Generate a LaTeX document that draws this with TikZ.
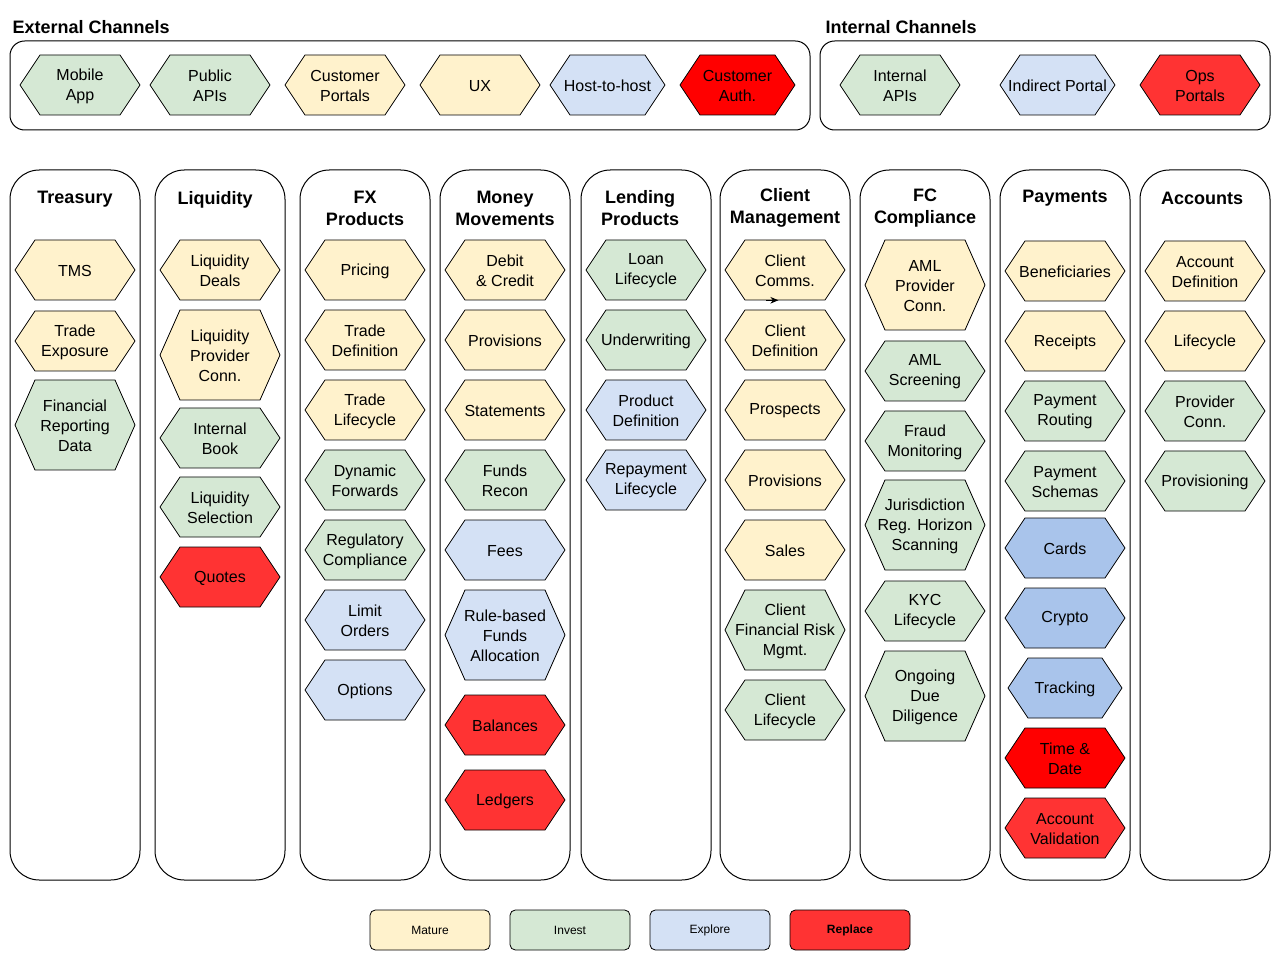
\documentclass[tikz,border=0pt]{standalone}
\usepackage{fontspec}
\setmainfont{Liberation Sans}
\usetikzlibrary{arrows.meta}

\definecolor{mature}{HTML}{FFF2CC}
\definecolor{invest}{HTML}{D5E8D4}
\definecolor{explore}{HTML}{D4E1F5}
\definecolor{deepblue}{HTML}{A9C4EB}
\definecolor{replace}{HTML}{FF3333}
\definecolor{purered}{HTML}{FF0000}

\tikzset{
  hexline/.style={draw=black, line width=0.6pt},
  hextext/.style={inner sep=0pt, align=center, font=\fontsize{12}{15}\selectfont},
  colbox/.style={draw=black, line width=0.75pt, rounded corners=22pt},
  chanbox/.style={draw=black, line width=0.75pt, rounded corners=11pt},
  header/.style={align=center, font=\fontsize{13.5}{16.5}\selectfont\bfseries},
  legend/.style={draw=black, line width=0.6pt, rounded corners=4pt, minimum width=90pt,
    minimum height=30pt, inner sep=0pt, font=\fontsize{9}{11}\selectfont}
}

% hexagon: name, left x, top y, width, height, fill, text
\newcommand{\hexa}[7]{%
  \draw[hexline, fill=#6] (#2,#3+#5/2) -- (#2+20,#3) -- (#2+#4-20,#3) -- (#2+#4,#3+#5/2)
    -- (#2+#4-20,#3+#5) -- (#2+20,#3+#5) -- cycle;
  \node[hextext, minimum width=#4*0.75pt, minimum height=#5*0.75pt] (#1) at (#2+#4/2,#3+#5/2+1) {#7};}

\begin{document}
\begin{tikzpicture}[x=0.75pt, y=-0.75pt]
  \fill[white] (0,0) rectangle (1281,969);
  \useasboundingbox (0,0) rectangle (1281,969);

  % channels
  \node[header, anchor=west] (extitle) at (8,27) {External Channels};
  \node[header, anchor=west] (intitle) at (821,27) {Internal Channels};
  \draw[chanbox] (10,41) rectangle (810,130);
  \draw[chanbox] (820,41) rectangle (1270,130);

  \hexa{mobile}{20}{55}{120}{60}{invest}{Mobile\\App}
  \hexa{pubapi}{150}{55}{120}{60}{invest}{Public\\APIs}
  \hexa{custportal}{285}{55}{120}{60}{mature}{Customer\\Portals}
  \hexa{ux}{420}{55}{120}{60}{mature}{UX}
  \hexa{hosthost}{550}{55}{115}{60}{explore}{Host-to-host}
  \hexa{custauth}{680}{55}{115}{60}{purered}{Customer\\Auth.}
  \hexa{intapi}{840}{55}{120}{60}{invest}{Internal\\APIs}
  \hexa{indportal}{1000}{55}{115}{60}{explore}{Indirect Portal}
  \hexa{opsportal}{1140}{55}{120}{60}{replace}{Ops\\Portals}

  % domain columns
  \draw[colbox] (10,170) rectangle (140,880);
  \draw[colbox] (155,170) rectangle (285,880);
  \draw[colbox] (300,170) rectangle (430,880);
  \draw[colbox] (440,170) rectangle (570,880);
  \draw[colbox] (581,170) rectangle (711,880);
  \draw[colbox] (720,170) rectangle (850,880);
  \draw[colbox] (860,170) rectangle (990,880);
  \draw[colbox] (1000,170) rectangle (1130,880);
  \draw[colbox] (1140,170) rectangle (1270,880);

  \node[header] (htreasury) at (75,199) {Treasury};
  \node[header] (hliquidity) at (215,200) {Liquidity};
  \node[header] (hfx) at (365,208) {FX\\Products};
  \node[header] (hmoney) at (505,208) {Money\\Movements};
  \node[header] (hlending) at (640,208) {Lending\\Products};
  \node[header] (hclient) at (785,208) {Client\\Management};
  \node[header] (hfc) at (925,208) {FC\\Compliance};
  \node[header] (hpayments) at (1065,198) {Payments};
  \node[header] (haccounts) at (1202,198) {Accounts};

  % Treasury
  \hexa{tms}{15}{240}{120}{60}{mature}{TMS}
  \hexa{tradeexp}{15}{311}{120}{60}{mature}{Trade\\Exposure}
  \hexa{finrep}{15}{380}{120}{90}{invest}{Financial\\Reporting\\Data}

  % Liquidity
  \hexa{liqdeals}{160}{240}{120}{60}{mature}{Liquidity\\Deals}
  \hexa{liqprov}{160}{310}{120}{90}{mature}{Liquidity\\Provider\\Conn.}
  \hexa{intbook}{160}{408}{120}{60}{invest}{Internal\\Book}
  \hexa{liqsel}{160}{477}{120}{60}{invest}{Liquidity\\Selection}
  \hexa{quotes}{160}{547}{120}{60}{replace}{Quotes}

  % FX Products
  \hexa{pricing}{305}{240}{120}{60}{mature}{Pricing}
  \hexa{tradedef}{305}{310}{120}{60}{mature}{Trade\\Definition}
  \hexa{tradelife}{305}{380}{120}{60}{mature}{Trade\\Lifecycle}
  \hexa{dynfwd}{305}{450}{120}{60}{invest}{Dynamic\\Forwards}
  \hexa{regcomp}{305}{520}{120}{60}{invest}{Regulatory\\Compliance}
  \hexa{limitord}{305}{590}{120}{60}{explore}{Limit\\Orders}
  \hexa{options}{305}{660}{120}{60}{explore}{Options}

  % Money Movements
  \hexa{debcred}{445}{240}{120}{60}{mature}{Debit\\\& Credit}
  \hexa{mmprov}{445}{310}{120}{60}{mature}{Provisions}
  \hexa{statements}{445}{380}{120}{60}{mature}{Statements}
  \hexa{fundsrecon}{445}{450}{120}{60}{invest}{Funds\\Recon}
  \hexa{fees}{445}{520}{120}{60}{explore}{Fees}
  \hexa{rulealloc}{445}{590}{120}{90}{explore}{Rule-based\\Funds\\Allocation}
  \hexa{balances}{445}{695}{120}{60}{replace}{Balances}
  \hexa{ledgers}{445}{770}{120}{60}{replace}{Ledgers}

  % Lending Products
  \hexa{loanlife}{586}{240}{120}{60}{invest}{Loan\\Lifecycle}
  \hexa{underwrite}{586}{310}{120}{60}{invest}{Underwriting}
  \hexa{proddef}{586}{380}{120}{60}{explore}{Product\\Definition}
  \hexa{repaylife}{586}{450}{120}{60}{explore}{Repayment\\Lifecycle}

  % Client Management
  \hexa{ccomms}{725}{240}{120}{60}{mature}{Client\\Comms.}
  \hexa{cdef}{725}{310}{120}{60}{mature}{Client\\Definition}
  \hexa{prospects}{725}{380}{120}{60}{mature}{Prospects}
  \hexa{cmprov}{725}{450}{120}{60}{mature}{Provisions}
  \hexa{sales}{725}{520}{120}{60}{mature}{Sales}
  \hexa{cfinrisk}{725}{590}{120}{80}{invest}{Client\\Financial Risk\\Mgmt.}
  \hexa{clife}{725}{680}{120}{60}{invest}{Client\\Lifecycle}
  \draw[line width=0.6pt, -{Stealth[length=6pt,width=5pt]}] ([xshift=-14pt,yshift=0.75pt]ccomms.south) -- ([xshift=-5pt,yshift=0.75pt]ccomms.south);

  % FC Compliance
  \hexa{amlprov}{865}{240}{120}{90}{mature}{AML\\Provider\\Conn.}
  \hexa{amlscreen}{865}{341}{120}{60}{invest}{AML\\Screening}
  \hexa{fraud}{865}{411}{120}{60}{invest}{Fraud\\Monitoring}
  \hexa{jurisdiction}{865}{480}{120}{90}{invest}{Jurisdiction\\Reg. Horizon\\Scanning}
  \hexa{kyclife}{865}{581}{120}{60}{invest}{KYC\\Lifecycle}
  \hexa{ongoing}{865}{651}{120}{90}{invest}{Ongoing\\Due\\Diligence}

  % Payments
  \hexa{benef}{1005}{241}{120}{60}{mature}{Beneficiaries}
  \hexa{receipts}{1005}{311}{120}{60}{mature}{Receipts}
  \hexa{payroute}{1005}{381}{120}{60}{invest}{Payment\\Routing}
  \hexa{payschema}{1005}{451}{120}{60}{invest}{Payment\\Schemas}
  \hexa{cards}{1005}{518}{120}{60}{deepblue}{Cards}
  \hexa{crypto}{1005}{588}{120}{60}{deepblue}{Crypto}
  \hexa{tracking}{1008}{658}{114}{60}{deepblue}{Tracking}
  \hexa{timedate}{1005}{728}{120}{60}{purered}{Time \&\\Date}
  \hexa{accval}{1005}{798}{120}{60}{replace}{Account\\Validation}

  % Accounts
  \hexa{accdef}{1145}{241}{120}{60}{mature}{Account\\Definition}
  \hexa{acclife}{1145}{311}{120}{60}{mature}{Lifecycle}
  \hexa{accprov}{1145}{381}{120}{60}{invest}{Provider\\Conn.}
  \hexa{provisioning}{1145}{451}{120}{60}{invest}{Provisioning}

  % legend
  \node[legend, fill=mature] (lgmature) at (430,930) {Mature};
  \node[legend, fill=invest] (lginvest) at (570,930) {Invest};
  \node[legend, fill=explore] (lgexplore) at (710,930) {Explore};
  \node[legend, fill=replace, font=\fontsize{9}{11}\selectfont\bfseries] (lgreplace) at (850,930) {Replace};
\end{tikzpicture}
\end{document}
